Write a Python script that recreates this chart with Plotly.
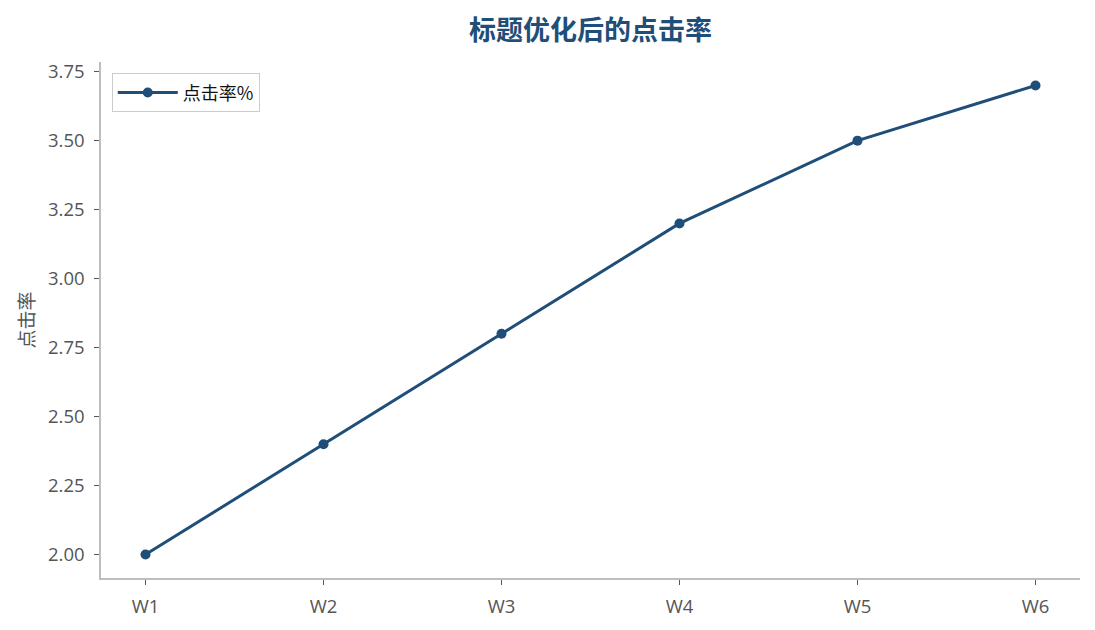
import plotly.graph_objects as go

weeks = ["W1", "W2", "W3", "W4", "W5", "W6"]
ctr = [2.0, 2.4, 2.8, 3.2, 3.5, 3.7]

navy = "#1f4e79"
font_family = "Open Sans, Noto Sans CJK SC, sans-serif"
cjk_family = "Noto Sans CJK SC, sans-serif"

fig = go.Figure()
fig.add_trace(go.Scatter(
    x=list(range(len(weeks))),
    y=ctr,
    mode="lines+markers",
    name="点击率%",
    line=dict(color=navy, width=3),
    marker=dict(color=navy, size=10),
))

axis_common = dict(
    showgrid=False,
    zeroline=False,
    showline=True,
    linecolor="#bdbdbd",
    linewidth=1.5,
    ticks="outside",
    ticklen=5,
    tickwidth=1.2,
    tickcolor="#555555",
    ticklabelstandoff=6,
    tickfont=dict(size=18.5, color="#555555", family=font_family),
)

# page has an 8px body margin, so the figure is a bit smaller
fig.update_layout(
    width=1087,
    height=622,
    paper_bgcolor="white",
    plot_bgcolor="white",
    font=dict(family=font_family, color="#555555"),
    margin=dict(l=93, r=15, t=54, b=52),
    title=dict(
        text="<b>标题优化后的点击率</b>",
        xref="paper",
        x=0.5,
        xanchor="center",
        y=0.963,
        yanchor="middle",
        font=dict(size=27, color=navy, family=cjk_family),
    ),
    xaxis=dict(
        axis_common,
        tickmode="array",
        tickvals=list(range(len(weeks))),
        ticktext=weeks,
        range=[-0.25, 5.25],
    ),
    yaxis=dict(
        axis_common,
        range=[1.915, 3.785],
        tickvals=[2.0, 2.25, 2.5, 2.75, 3.0, 3.25, 3.5, 3.75],
        tickformat=".2f",
        title=dict(text="点击率", font=dict(size=19, color="#555555", family=cjk_family),
                   standoff=8),
    ),
    showlegend=True,
    legend=dict(
        x=0.011,
        y=0.978,
        xanchor="left",
        yanchor="top",
        bgcolor="white",
        bordercolor="#cccccc",
        borderwidth=1,
        itemwidth=60,
        font=dict(size=18, color="#111111", family=cjk_family),
    ),
)

fig.write_html("out.html")
